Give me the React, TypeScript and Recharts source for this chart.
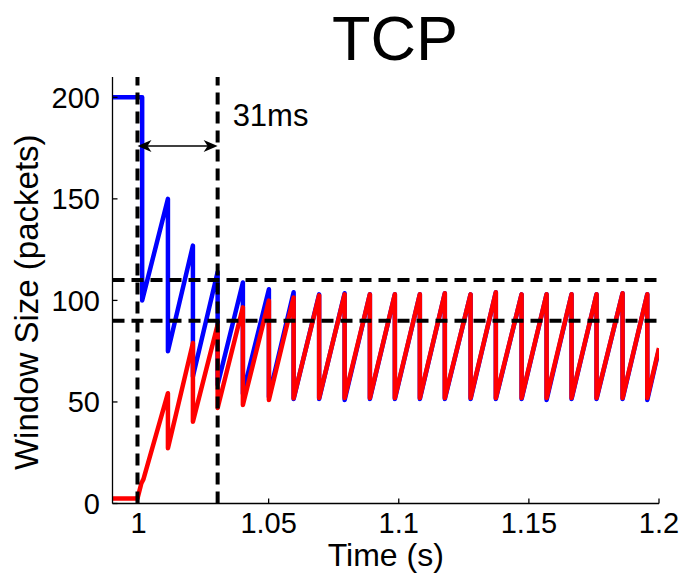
import React from "react";
import { LineChart, Line, XAxis, YAxis, ReferenceLine, Label } from "recharts";

const xTicks = [1, 1.05, 1.1, 1.15, 1.2];
const yTicks = [0, 50, 100, 150, 200];

// times (s) at which both windows are cut
const peakTimes = [1.0113, 1.0209, 1.0304, 1.0401, 1.0501, 1.0596, 1.0694, 1.0792, 1.0889, 1.0985, 1.1081, 1.1177, 1.1276, 1.1373, 1.1472, 1.1568, 1.1664, 1.176, 1.186, 1.1955];
const bluePeaks = [150, 127, 114, 108.8, 105.5, 104, 103, 103.5, 103, 103, 103, 103.5, 103, 104, 103, 103, 103, 103, 103.5, 103];
const blueTroughs = [75, 62.5, 58.5, 54, 52.5, 51.5, 51.5, 51, 51.5, 51.5, 51.5, 51.5, 51.5, 51.5, 51.5, 51, 51.5, 51.5, 51.5, 51];
const redPeaks = [54.3, 79, 88, 96.6, 99.9, 101.4, 102.5, 103, 103, 103, 103, 103.5, 103, 104, 103, 103, 103, 103, 103.5, 103];
const redTroughs = [27.2, 40.3, 47, 48.5, 51, 51.8, 52, 52, 52, 52, 52, 52, 52, 52, 52, 52, 52, 52, 52, 52];

const blueStart: [number, number][] = [[0.99, 200], [1.0014, 200], [1.0014, 100]];
const redStart: [number, number][] = [[0.99, 2.5], [0.9996, 2.5], [1.0011, 10], [1.0019, 12]];
const endTime = 1.2;
const blueEnd = 76;
const redEnd = 76.5;

const thresholds = [110, 90];
const markerTimes = [0.9996, 1.0304];
const arrowLevel = 176;
const intervalLabel = "31ms";

const FONT = "'Liberation Sans', Arial, Helvetica, sans-serif";

function buildSeries(start: [number, number][], peaks: number[], troughs: number[], end: number) {
  const pts = start.map(([t, w]) => ({ t, w }));
  peakTimes.forEach((t, i) => {
    pts.push({ t, w: peaks[i] });
    pts.push({ t, w: troughs[i] });
  });
  pts.push({ t: endTime, w: end });
  return pts;
}

const blueData = buildSeries(blueStart, bluePeaks, blueTroughs, blueEnd);
const redData = buildSeries(redStart, redPeaks, redTroughs, redEnd);

const ArrowShape = (props: any) => {
  const { x1, y1, x2, y2 } = props;
  const len = 14;
  const half = 6;
  const notch = 10;
  return (
    <g>
      <line x1={x1 + 4} y1={y1} x2={x2 - 4} y2={y2} stroke="#000" strokeWidth={1.6} />
      <polygon
        points={`${x1},${y1} ${x1 + len},${y1 - half} ${x1 + notch},${y1} ${x1 + len},${y1 + half}`}
        fill="#000"
      />
      <polygon
        points={`${x2},${y2} ${x2 - len},${y2 - half} ${x2 - notch},${y2} ${x2 - len},${y2 + half}`}
        fill="#000"
      />
      <text x={x2 + 15} y={y2 - 20} fontSize={31} fontFamily={FONT} fill="#000">
        {intervalLabel}
      </text>
    </g>
  );
};

const YLabel = (props: any) => {
  const vb = props.viewBox || { x: 0, y: 77, width: 112, height: 426 };
  const cx = vb.x + 38;
  const cy = vb.y + vb.height / 2 + 12;
  return (
    <text x={cx} y={cy} transform={`rotate(-90 ${cx} ${cy})`} textAnchor="middle" fontSize={33} fontFamily={FONT} fill="#000">
      Window Size (packets)
    </text>
  );
};

const XLabel = (props: any) => {
  const vb = props.viewBox || { x: 112, y: 503, width: 547, height: 69 };
  return (
    <text x={vb.x + vb.width / 2} y={vb.y + 62} textAnchor="middle" fontSize={32} fontFamily={FONT} fill="#000">
      Time (s)
    </text>
  );
};

export default function App() {
  return (
    <div style={{ position: "absolute", left: 0, top: 0, width: 682, height: 573, background: "#fff" }}>
      <div
        style={{
          position: "absolute",
          left: 195,
          top: 7,
          width: 400,
          textAlign: "center",
          fontFamily: FONT,
          fontSize: 63,
          lineHeight: "63px",
          color: "#000",
        }}
      >
        TCP
      </div>
      <LineChart width={682} height={573} margin={{ top: 77, right: 23, bottom: 0, left: 0 }}>
        <XAxis
          dataKey="t"
          type="number"
          domain={[0.99, 1.2]}
          ticks={xTicks}
          allowDataOverflow
          height={69.5}
          tickSize={-5}
          tickMargin={14}
          axisLine={{ stroke: "#000", strokeWidth: 1.3 }}
          tickLine={{ stroke: "#000", strokeWidth: 1.3 }}
          tick={{ fontSize: 29, fill: "#000", fontFamily: FONT }}
          label={<Label content={<XLabel />} />}
        />
        <YAxis
          type="number"
          domain={[0, 210]}
          ticks={yTicks}
          allowDataOverflow
          width={112.5}
          tickSize={-5}
          tickMargin={17.5}
          axisLine={{ stroke: "#000", strokeWidth: 1.3 }}
          tickLine={{ stroke: "#000", strokeWidth: 1.3 }}
          tick={{ fontSize: 29, fill: "#000", fontFamily: FONT }}
          label={<Label content={<YLabel />} />}
        />
        <Line
          data={blueData}
          dataKey="w"
          type="linear"
          stroke="#0000ff"
          strokeWidth={4.5}
          strokeLinejoin="round"
          dot={false}
          activeDot={false}
          isAnimationActive={false}
        />
        <Line
          data={redData}
          dataKey="w"
          type="linear"
          stroke="#ff0000"
          strokeWidth={4.5}
          strokeLinejoin="round"
          dot={false}
          activeDot={false}
          isAnimationActive={false}
        />
        {thresholds.map((v) => (
          <ReferenceLine key={"h" + v} y={v} stroke="#000" strokeWidth={4} strokeDasharray="12 7" />
        ))}
        {markerTimes.map((v) => (
          <ReferenceLine key={"v" + v} x={v} stroke="#000" strokeWidth={4} strokeDasharray="12 7" />
        ))}
        <ReferenceLine
          segment={[
            { x: markerTimes[0], y: arrowLevel },
            { x: markerTimes[1], y: arrowLevel },
          ]}
          shape={<ArrowShape />}
        />
      </LineChart>
    </div>
  );
}
